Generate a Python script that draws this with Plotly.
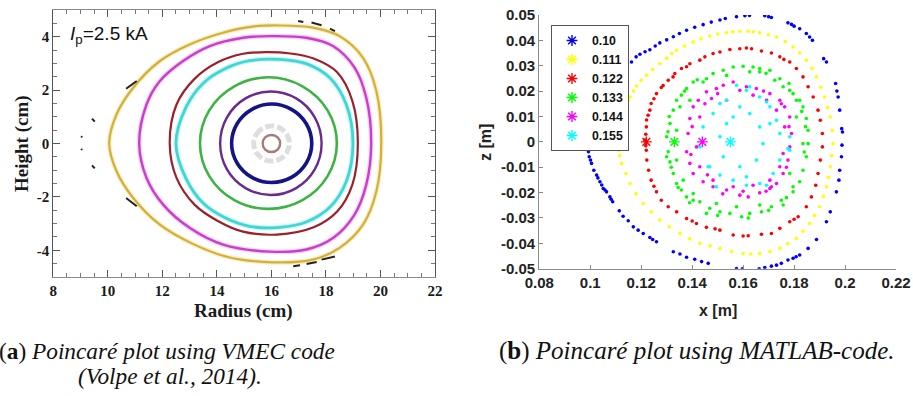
import plotly.graph_objects as go

# ---------------- Panel (a): VMEC flux surfaces (R, Z in cm) ----------------
vmec_gold_r = [10.05, 10.32, 10.93, 11.91, 13.0, 14.22, 15.3, 16.3, 17.52, 18.5, 19.36, 19.85, 20.03,
               19.85, 19.36, 18.5, 17.52, 16.06, 14.4, 13.1, 11.91, 10.93, 10.32]
vmec_gold_z = [0.0, 1.09, 2.09, 3.09, 3.71, 4.15, 4.38, 4.42, 4.34, 4.02, 3.21, 1.96, 0.0,
               -1.79, -3.04, -3.91, -4.35, -4.45, -4.25, -3.75, -3.04, -2.04, -1.04]

vmec_magenta_r = [11.15, 11.42, 11.91, 12.76, 13.74, 14.96, 15.94, 17.28, 18.26, 19.05, 19.48, 19.66,
                  19.48, 19.05, 18.26, 17.28, 15.94, 14.23, 13.0, 12.03, 11.42]
vmec_magenta_z = [0.0, 1.46, 2.34, 3.09, 3.65, 3.96, 4.02, 3.96, 3.65, 2.84, 1.71, 0.0,
                  -1.54, -2.66, -3.54, -3.97, -4.05, -3.79, -3.16, -2.29, -1.29]

vmec_darkred_r = [12.27, 12.52, 13.18, 14.05, 14.96, 15.8, 16.7, 17.55, 18.42, 18.97, 19.17,
                  18.97, 18.42, 17.55, 16.2, 14.96, 14.05, 13.18, 12.52]
vmec_darkred_z = [0.0, 1.46, 2.42, 3.05, 3.36, 3.42, 3.37, 3.18, 2.66, 1.59, 0.0,
                  -1.54, -2.54, -3.14, -3.41, -3.3, -2.91, -2.29, -1.29]

vmec_cyan_r = [12.5, 12.86, 13.5, 14.3, 15.2, 16.3, 17.3, 18.15, 18.75, 18.99,
               18.75, 18.15, 17.3, 16.3, 15.2, 14.3, 13.5, 12.86]
vmec_cyan_z = [0.0, 1.34, 2.26, 2.8, 3.1, 3.15, 2.98, 2.45, 1.45, 0.0,
               -1.41, -2.38, -2.93, -3.14, -3.1, -2.78, -2.24, -1.3]

vmec_green_r = [13.38, 13.72, 14.64, 15.89, 17.14, 18.06, 18.4, 18.06, 17.14, 15.89, 14.64, 13.72]
vmec_green_z = [0.0, 1.24, 2.14, 2.48, 2.14, 1.24, 0.0, -1.22, -2.12, -2.45, -2.12, -1.22]

vmec_purple_r = [14.12, 14.37, 15.05, 15.98, 16.91, 17.59, 17.84, 17.59, 16.91, 15.98, 15.05, 14.37]
vmec_purple_z = [0.0, 0.98, 1.69, 1.95, 1.69, 0.98, 0.0, -0.97, -1.67, -1.93, -1.67, -0.97]

vmec_navy_r = [14.54, 14.74, 15.27, 16.01, 16.75, 17.28, 17.48, 17.28, 16.75, 16.01, 15.27, 14.74]
vmec_navy_z = [0.0, 0.74, 1.27, 1.48, 1.27, 0.74, 0.0, -0.73, -1.26, -1.46, -1.26, -0.73]

vmec_ring_r = [15.35, 15.44, 15.68, 16.0, 16.33, 16.57, 16.66, 16.57, 16.33, 16.0, 15.68, 15.44]
vmec_ring_z = [0.0, 0.33, 0.57, 0.66, 0.57, 0.33, 0.0, -0.33, -0.57, -0.66, -0.57, -0.33]

vmec_core_r = [15.68, 15.77, 16.0, 16.23, 16.32, 16.23, 16.0, 15.77]
vmec_core_z = [0.0, 0.23, 0.32, 0.23, 0.0, -0.23, -0.32, -0.23]

# island chain fragments outside the last closed surface (segments separated by None)
island_r = [9.02, 9.06, None, 9.02, 9.06, None, 9.42, 9.52, None, 9.42, 9.52, None,
            10.67, 11.06, None, 10.67, 11.06, None,
            16.98, 17.17, None, 17.47, 17.84, None, 18.15, 18.33, None,
            16.8, 17.05, None, 17.29, 17.66, None, 17.84, 18.33]
island_z = [0.27, 0.23, None, -0.2, -0.24, None, 0.93, 0.82, None, -0.82, -0.93, None,
            2.05, 2.34, None, -2.04, -2.35, None,
            4.59, 4.55, None, 4.53, 4.43, None, 4.3, 4.21, None,
            -4.6, -4.56, None, -4.51, -4.44, None, -4.35, -4.23]

a_xticks = [8, 10, 12, 14, 16, 18, 20, 22]
a_xticktext = ["8", "10", "12", "14", "16", "18", "20", "22"]
a_yticks = [-4, -2, 0, 2, 4]
a_yticktext = ["-4", "-2", "0", "2", "4"]

# ---------------- Panel (b): MATLAB field-line tracing (x, z in m) ----------------
start_x = [0.10, 0.111, 0.122, 0.133, 0.144, 0.155]
start_labels = ["0.10", "0.111", "0.122", "0.133", "0.144", "0.155"]
series_colors = ["#0000ff", "#ffff00", "#ff0000", "#00ff00", "#ff00ff", "#00ffff"]

trace_blue_x = [0.1162, 0.1180, 0.1195, 0.1215, 0.1234, 0.1255, 0.1273, 0.1300, 0.1326, 0.1350, 0.1378, 0.1410,
                0.1443, 0.1475, 0.1509, 0.1530, 0.1574, 0.1607, 0.1625, 0.1685, 0.1700, 0.1711, 0.1776, 0.1790,
                0.1800, 0.1822, 0.1848, 0.1861, 0.1872, 0.1916, 0.1927, 0.1963, 0.1968, 0.1973, 0.1979, 0.1987,
                0.1990, 0.1988, 0.1986, 0.1979, 0.1976, 0.1966, 0.1942, 0.1927, 0.1888, 0.1855, 0.1822, 0.1808,
                0.1796, 0.1776, 0.1750, 0.1731, 0.1711, 0.1685, 0.1663, 0.1597, 0.1574, 0.1463, 0.1437, 0.1410,
                0.1378, 0.1352, 0.1326, 0.1260, 0.1245, 0.1234, 0.1208, 0.1188, 0.1169, 0.1149, 0.1129, 0.1114,
                0.1088, 0.1082, 0.1077, 0.1064, 0.1058, 0.1051, 0.1045, 0.1038, 0.1030, 0.1025, 0.1014, 0.1005,
                0.1001, 0.0996, 0.0993, 0.0992, 0.0995]
trace_blue_z = [0.0315, 0.0335, 0.0345, 0.0355, 0.0363, 0.0378, 0.0390, 0.0402, 0.0414, 0.0427, 0.0440, 0.0452,
                0.0462, 0.0472, 0.0480, 0.0486, 0.0493, 0.0497, 0.0498, 0.0497, 0.0493, 0.0490, 0.0469, 0.0463,
                0.0456, 0.0446, 0.0427, 0.0413, 0.0400, 0.0328, 0.0315, 0.0230, 0.0200, 0.0177, 0.0125, 0.0052,
                0.0039, -0.0013, -0.0059, -0.0112, -0.0151, -0.0197, -0.0276, -0.0315, -0.0385, -0.0420, -0.0446, -0.0453,
                -0.0459, -0.0466, -0.0479, -0.0486, -0.0490, -0.0495, -0.0500, -0.0500, -0.0499, -0.0479, -0.0472, -0.0463,
                -0.0455, -0.0442, -0.0433, -0.0394, -0.0385, -0.0377, -0.0361, -0.0348, -0.0335, -0.0311, -0.0293, -0.0272,
                -0.0236, -0.0226, -0.0217, -0.0197, -0.0190, -0.0184, -0.0170, -0.0157, -0.0142, -0.0131, -0.0112, -0.0085,
                -0.0072, -0.0059, -0.0039, -0.0020, -0.0010]

trace_yellow_x = [0.1142, 0.1149, 0.1156, 0.1170, 0.1182, 0.1200, 0.1221, 0.1245, 0.1273, 0.1300, 0.1320, 0.1339,
                  0.1370, 0.1404, 0.1435, 0.1469, 0.1500, 0.1535, 0.1560, 0.1587, 0.1620, 0.1640, 0.1665, 0.1700,
                  0.1731, 0.1765, 0.1796, 0.1822, 0.1848, 0.1870, 0.1888, 0.1905, 0.1920, 0.1932, 0.1942, 0.1950,
                  0.1953, 0.1948, 0.1942, 0.1935, 0.1927, 0.1915, 0.1900, 0.1880, 0.1861, 0.1835, 0.1809, 0.1775,
                  0.1744, 0.1705, 0.1665, 0.1630, 0.1600, 0.1555, 0.1509, 0.1470, 0.1430, 0.1390, 0.1352, 0.1310,
                  0.1273, 0.1240, 0.1208, 0.1180, 0.1156, 0.1140, 0.1123, 0.1115, 0.1111, 0.1110, 0.1110, 0.1111]
trace_yellow_z = [0.0151, 0.0164, 0.0177, 0.0200, 0.0220, 0.0243, 0.0263, 0.0285, 0.0309, 0.0330, 0.0348, 0.0361,
                  0.0378, 0.0394, 0.0406, 0.0417, 0.0425, 0.0430, 0.0434, 0.0436, 0.0436, 0.0434, 0.0430, 0.0422,
                  0.0413, 0.0395, 0.0374, 0.0350, 0.0322, 0.0290, 0.0256, 0.0215, 0.0177, 0.0135, 0.0098, 0.0045,
                  -0.0007, -0.0055, -0.0098, -0.0140, -0.0177, -0.0215, -0.0256, -0.0290, -0.0322, -0.0352, -0.0381, -0.0402,
                  -0.0420, -0.0432, -0.0440, -0.0442, -0.0440, -0.0432, -0.0420, -0.0410, -0.0400, -0.0382, -0.0361, -0.0335,
                  -0.0308, -0.0276, -0.0243, -0.0205, -0.0164, -0.0125, -0.0085, -0.0055, -0.0033, -0.0015, 0.0010, 0.0020]

trace_red_x = [0.1214, 0.1218, 0.1220, 0.1221, 0.1227, 0.1234, 0.1239, 0.1250, 0.1260, 0.1279, 0.1286, 0.1306,
               0.1325, 0.1332, 0.1358, 0.1378, 0.1391, 0.1430, 0.1450, 0.1482, 0.1509, 0.1548, 0.1587, 0.1613,
               0.1633, 0.1672, 0.1711, 0.1744, 0.1760, 0.1783, 0.1809, 0.1835, 0.1855, 0.1875, 0.1894, 0.1903,
               0.1911, 0.1911, 0.1903, 0.1894, 0.1885, 0.1868, 0.1848, 0.1816, 0.1800, 0.1783, 0.1744, 0.1711,
               0.1672, 0.1620, 0.1600, 0.1561, 0.1509, 0.1490, 0.1456, 0.1417, 0.1400, 0.1378, 0.1339, 0.1306,
               0.1279, 0.1260, 0.1250, 0.1239, 0.1229, 0.1222, 0.1220, 0.1218]
trace_red_z = [0.0007, 0.0030, 0.0059, 0.0086, 0.0105, 0.0125, 0.0151, 0.0170, 0.0190, 0.0214, 0.0222, 0.0243,
               0.0256, 0.0269, 0.0289, 0.0296, 0.0308, 0.0322, 0.0335, 0.0348, 0.0354, 0.0364, 0.0367, 0.0370,
               0.0367, 0.0358, 0.0350, 0.0335, 0.0325, 0.0315, 0.0289, 0.0256, 0.0217, 0.0177, 0.0125, 0.0085,
               0.0033, -0.0020, -0.0072, -0.0125, -0.0171, -0.0217, -0.0256, -0.0295, -0.0305, -0.0315, -0.0341, -0.0361,
               -0.0364, -0.0370, -0.0371, -0.0367, -0.0348, -0.0343, -0.0337, -0.0322, -0.0312, -0.0302, -0.0276, -0.0256,
               -0.0230, -0.0197, -0.0175, -0.0151, -0.0112, -0.0072, -0.0033, -0.0015]

trace_green_x = [0.1561, 0.1600, 0.1639, 0.1665, 0.1522, 0.1482, 0.1456, 0.1443, 0.1404, 0.1378, 0.1358, 0.1339,
                 0.1326, 0.1313, 0.1300, 0.1306, 0.1313, 0.1326, 0.1339, 0.1358, 0.1378, 0.1404, 0.1430, 0.1469,
                 0.1509, 0.1548, 0.1594, 0.1626, 0.1672, 0.1711, 0.1750, 0.1796, 0.1822, 0.1835, 0.1848, 0.1855,
                 0.1855, 0.1848, 0.1835, 0.1809, 0.1796, 0.1757, 0.1744, 0.1705, 0.1665, 0.1300, 0.1404, 0.1456,
                 0.1757, 0.1796, 0.1783, 0.1809, 0.1724, 0.1391, 0.1352, 0.1339, 0.1339, 0.1365, 0.1495, 0.1574,
                 0.1665, 0.1835, 0.1822, 0.1783, 0.1626, 0.1535, 0.1420, 0.1370, 0.1310, 0.1305, 0.1318, 0.1345,
                 0.1390, 0.1500, 0.1620, 0.1700, 0.1770, 0.1840, 0.1845, 0.1830, 0.1780, 0.1690]
trace_green_z = [0.0295, 0.0298, 0.0295, 0.0276, 0.0282, 0.0269, 0.0249, 0.0236, 0.0236, 0.0210, 0.0184, 0.0164,
                 0.0125, 0.0072, 0.0020, -0.0039, -0.0079, -0.0125, -0.0164, -0.0190, -0.0217, -0.0230, -0.0236, -0.0262,
                 -0.0276, -0.0282, -0.0295, -0.0282, -0.0276, -0.0256, -0.0230, -0.0197, -0.0157, -0.0112, -0.0059, -0.0007,
                 0.0046, 0.0092, 0.0138, 0.0164, 0.0190, 0.0217, 0.0249, 0.0282, 0.0289, -0.0059, -0.0204, -0.0282,
                 -0.0249, -0.0177, -0.0125, 0.0098, 0.0243, 0.0164, 0.0138, 0.0046, -0.0072, -0.0151, -0.0243, -0.0256,
                 -0.0249, -0.0007, 0.0164, 0.0203, 0.0276, 0.0262, 0.0245, 0.0200, 0.0100, 0.0040, -0.0100, -0.0180,
                 -0.0240, -0.0290, -0.0300, -0.0270, -0.0220, -0.0040, 0.0060, 0.0120, 0.0230, 0.0270]

trace_magenta_x = [0.1561, 0.1613, 0.1652, 0.1705, 0.1744, 0.1763, 0.1783, 0.1790, 0.1783, 0.1776, 0.1757, 0.1731,
                   0.1705, 0.1665, 0.1620, 0.1587, 0.1535, 0.1482, 0.1443, 0.1404, 0.1391, 0.1378, 0.1384, 0.1391,
                   0.1404, 0.1424, 0.1456, 0.1495, 0.1522, 0.1476, 0.1430, 0.1417, 0.1430, 0.1482, 0.1561, 0.1639,
                   0.1705, 0.1744, 0.1757, 0.1763, 0.1731, 0.1692, 0.1639, 0.1587, 0.1535, 0.1711, 0.1400, 0.1395,
                   0.1460, 0.1520, 0.1600, 0.1690, 0.1770, 0.1780, 0.1750, 0.1680, 0.1500, 0.1450]
trace_magenta_z = [0.0236, 0.0217, 0.0210, 0.0190, 0.0164, 0.0138, 0.0098, 0.0033, -0.0020, -0.0072, -0.0125, -0.0164,
                   -0.0184, -0.0201, -0.0217, -0.0210, -0.0190, -0.0177, -0.0157, -0.0125, -0.0085, -0.0039, 0.0033, 0.0092,
                   0.0138, 0.0164, 0.0197, 0.0210, 0.0223, 0.0171, 0.0098, -0.0020, -0.0098, -0.0151, -0.0177, -0.0171,
                   -0.0151, -0.0098, -0.0046, 0.0059, 0.0125, 0.0164, 0.0184, 0.0203, 0.0164, -0.0177, 0.0060, -0.0050,
                   -0.0130, -0.0205, -0.0195, -0.0195, -0.0100, 0.0060, 0.0150, 0.0200, 0.0190, 0.0150]

trace_cyan_x = [0.1574, 0.1613, 0.1535, 0.1509, 0.1665, 0.1705, 0.1731, 0.1744, 0.1783, 0.1744, 0.1718, 0.1665,
                0.1613, 0.1561, 0.1509, 0.1469, 0.1430, 0.1443, 0.1482, 0.1587, 0.1626, 0.1665, 0.1678, 0.1652,
                0.1587, 0.1522, 0.1509, 0.1535, 0.1626, 0.1692, 0.1783, 0.1776, 0.1463, 0.1495, 0.1613, 0.1692,
                0.1705, 0.1561]
trace_cyan_z = [0.0223, 0.0203, 0.0164, 0.0151, 0.0177, 0.0138, 0.0085, 0.0033, -0.0033, -0.0072, -0.0125, -0.0164,
                -0.0171, -0.0151, -0.0131, -0.0098, -0.0020, 0.0059, 0.0112, 0.0138, 0.0112, 0.0059, -0.0007, -0.0072,
                -0.0098, -0.0059, 0.0020, 0.0072, 0.0217, 0.0157, 0.0020, -0.0026, -0.0098, -0.0177, -0.0138, -0.0171,
                0.0072, 0.0098]

b_xticks = [0.08, 0.10, 0.12, 0.14, 0.16, 0.18, 0.20, 0.22]
b_xticktext = ["0.08", "0.1", "0.12", "0.14", "0.16", "0.18", "0.2", "0.22"]
b_yticks = [0.05, 0.04, 0.03, 0.02, 0.01, 0.0, -0.01, -0.02, -0.03, -0.04, -0.05]
b_yticktext = ["0.05", "0.04", "0.03", "0.02", "0.01", "0", "-0.01", "-0.02", "-0.03", "-0.04", "-0.05"]

W, H = 913, 396


def px(x):
    return x / W


def py(y):
    return 1 - y / H


fig = go.Figure()

# ---- panel (a) traces ----
surfaces = [
    (vmec_gold_r, vmec_gold_z, "#d4b03a", 2.2, "#f8efc4"),
    (vmec_magenta_r, vmec_magenta_z, "#c93fcb", 2.4, "#f3d6f3"),
    (vmec_darkred_r, vmec_darkred_z, "#9e1f2c", 2.2, None),
    (vmec_cyan_r, vmec_cyan_z, "#3fd6d6", 2.8, "#d2f4f4"),
    (vmec_green_r, vmec_green_z, "#3bb444", 2.6, None),
    (vmec_purple_r, vmec_purple_z, "#6a2a8e", 2.4, None),
    (vmec_navy_r, vmec_navy_z, "#141487", 3.6, None),
]
for r, z, col, w, halo in surfaces:
    rr = r + [r[0]]
    zz = z + [z[0]]
    if halo:
        fig.add_trace(go.Scatter(x=rr, y=zz, mode="lines", xaxis="x", yaxis="y", showlegend=False,
                                 hoverinfo="skip",
                                 line=dict(color=halo, width=w + 2.5, shape="spline", smoothing=1.0)))
    fig.add_trace(go.Scatter(x=rr, y=zz, mode="lines", xaxis="x", yaxis="y", showlegend=False,
                             line=dict(color=col, width=w, shape="spline", smoothing=1.0)))

fig.add_trace(go.Scatter(x=vmec_ring_r + [vmec_ring_r[0]], y=vmec_ring_z + [vmec_ring_z[0]],
                         mode="lines", xaxis="x", yaxis="y", showlegend=False,
                         line=dict(color="#dedede", width=5, shape="spline", dash="9px,3px")))
fig.add_trace(go.Scatter(x=vmec_core_r + [vmec_core_r[0]], y=vmec_core_z + [vmec_core_z[0]], mode="lines",
                         xaxis="x", yaxis="y", showlegend=False,
                         line=dict(color="#a87a78", width=2.4, shape="spline")))
fig.add_trace(go.Scatter(x=island_r, y=island_z, mode="lines", xaxis="x", yaxis="y",
                         showlegend=False, connectgaps=False,
                         line=dict(color="#222222", width=2)))

# ---- panel (b) traces ----
series = [
    (trace_blue_x, trace_blue_z), (trace_yellow_x, trace_yellow_z), (trace_red_x, trace_red_z),
    (trace_green_x, trace_green_z), (trace_magenta_x, trace_magenta_z), (trace_cyan_x, trace_cyan_z),
]
for (sx, sz), col, lab in zip(series, series_colors, start_labels):
    fig.add_trace(go.Scatter(x=sx, y=sz, mode="markers", xaxis="x2", yaxis="y2",
                             showlegend=False, legendgroup=lab,
                             marker=dict(color=col, size=3.6, line=dict(width=0))))
for x0, col, lab in zip(start_x, series_colors, start_labels):
    fig.add_trace(go.Scatter(x=[x0], y=[0.0], mode="markers", xaxis="x2", yaxis="y2",
                             name=lab, legendgroup=lab,
                             marker=dict(symbol="asterisk-open", size=9, color=col,
                                         line=dict(color=col, width=1.4))))

serif = "Liberation Serif"
sans = "Liberation Sans"

fig.update_layout(
    width=W, height=H,
    margin=dict(l=0, r=0, t=0, b=0, autoexpand=False),
    paper_bgcolor="white", plot_bgcolor="white",
    xaxis=dict(domain=[px(53.3), px(435)], range=[8, 22], anchor="y", automargin=False,
               tickvals=a_xticks, ticktext=a_xticktext,
               tickfont=dict(family=serif, size=15, color="#1a1a1a", weight="bold"),
               showline=True, linecolor="#8a8a8a", linewidth=1.2, mirror="allticks",
               ticks="inside", ticklen=7, tickcolor="#555", tickwidth=1,
               minor=dict(ticks="inside", ticklen=4, dtick=0.5, tickcolor="#777"),
               showgrid=False, zeroline=False, fixedrange=True),
    yaxis=dict(domain=[py(277), py(10)], range=[-5, 5], anchor="x", automargin=False,
               tickvals=a_yticks, ticktext=a_yticktext,
               tickfont=dict(family=serif, size=15, color="#1a1a1a", weight="bold"),
               showline=True, linecolor="#555", linewidth=1.2, mirror="allticks",
               ticks="inside", ticklen=7, tickcolor="#555", tickwidth=1,
               minor=dict(ticks="inside", ticklen=4, dtick=0.5, tickcolor="#777"),
               showgrid=False, zeroline=False, fixedrange=True),
    xaxis2=dict(domain=[px(539.3), px(896)], range=[0.08, 0.22], anchor="y2", automargin=False,
                tickvals=b_xticks, ticktext=b_xticktext,
                tickfont=dict(family=sans, size=15, color="#222", weight="bold"),
                showline=True, linecolor="#8a8a8a", linewidth=1.2, mirror=False,
                ticks="inside", ticklen=4, tickcolor="#8a8a8a",
                showgrid=False, zeroline=False, fixedrange=True),
    yaxis2=dict(domain=[py(268.7), py(15)], range=[-0.05, 0.05], anchor="x2", automargin=False,
                tickvals=b_yticks, ticktext=b_yticktext,
                tickfont=dict(family=sans, size=15, color="#222", weight="bold"),
                showline=True, linecolor="#8a8a8a", linewidth=1.2, mirror=False,
                ticks="inside", ticklen=4, tickcolor="#8a8a8a",
                showgrid=False, zeroline=False, fixedrange=True),
    legend=dict(x=px(551), y=py(25), xanchor="left", yanchor="top",
                bgcolor="white", bordercolor="#555", borderwidth=1,
                font=dict(family=sans, size=12.3, color="#111", weight="bold"),
                tracegroupgap=0, itemwidth=30),
    showlegend=True,
)

annotations = [
    # panel (a) labels
    dict(text="<b>Radius (cm)</b>", x=px(244), y=py(311), font=dict(family=serif, size=19, color="#1a1a1a")),
    dict(text="<b>Height (cm)</b>", x=px(22), y=py(144), textangle=-90,
         font=dict(family=serif, size=19, color="#1a1a1a")),
    dict(text="<i>I</i><sub>p</sub>=2.5 kA", x=px(68), y=py(35), xanchor="left",
         font=dict(family=sans, size=19, color="#111")),
    # panel (b) labels
    dict(text="<b>x [m]</b>", x=px(718), y=py(310), font=dict(family=sans, size=16, color="#222")),
    dict(text="<b>z [m]</b>", x=px(485), y=py(142), textangle=-90,
         font=dict(family=sans, size=16, color="#222")),
    # captions
    dict(text="(<b>a</b>) <i>Poincaré plot using VMEC code</i>", x=px(-3), y=py(351), xanchor="left",
         font=dict(family=serif, size=23.3, color="#111")),
    dict(text="<i>(Volpe et al., 2014).</i>", x=px(76), y=py(376), xanchor="left",
         font=dict(family=serif, size=23.3, color="#111")),
    dict(text="(<b>b</b>) <i>Poincaré plot using MATLAB-code.</i>", x=px(497), y=py(351), xanchor="left",
         font=dict(family=serif, size=25, color="#111")),
]
for a in annotations:
    a.setdefault("xanchor", "center")
    a.update(xref="paper", yref="paper", showarrow=False, yanchor="middle")
fig.update_layout(annotations=annotations)

fig.write_html("out.html")
